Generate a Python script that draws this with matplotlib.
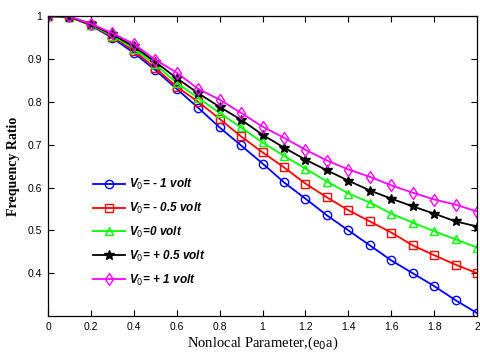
import matplotlib
matplotlib.use("Agg")
import matplotlib.pyplot as plt

# --- data ---
e0a = [0.0, 0.1, 0.2, 0.3, 0.4, 0.5, 0.6, 0.7, 0.8, 0.9, 1.0,
       1.1, 1.2, 1.3, 1.4, 1.5, 1.6, 1.7, 1.8, 1.9, 2.0]

v_m1 = [1.0, 0.998, 0.978, 0.949, 0.914, 0.874, 0.830, 0.786, 0.740, 0.698, 0.656,
        0.612, 0.574, 0.535, 0.500, 0.465, 0.430, 0.400, 0.370, 0.337, 0.307]
v_m05 = [1.0, 0.998, 0.979, 0.952, 0.919, 0.879, 0.835, 0.800, 0.760, 0.719, 0.682,
         0.647, 0.609, 0.577, 0.547, 0.521, 0.495, 0.465, 0.442, 0.420, 0.400]
v_0 = [1.0, 0.998, 0.980, 0.954, 0.924, 0.887, 0.844, 0.809, 0.774, 0.740, 0.705,
       0.674, 0.644, 0.614, 0.586, 0.565, 0.539, 0.518, 0.498, 0.479, 0.460]
v_p05 = [1.0, 0.998, 0.981, 0.957, 0.929, 0.893, 0.855, 0.820, 0.788, 0.758, 0.723,
         0.693, 0.665, 0.640, 0.616, 0.593, 0.574, 0.556, 0.539, 0.521, 0.509]
v_p1 = [1.0, 0.999, 0.982, 0.960, 0.935, 0.898, 0.868, 0.830, 0.805, 0.774, 0.742,
        0.716, 0.688, 0.663, 0.642, 0.625, 0.605, 0.588, 0.572, 0.560, 0.544]

series = [v_m1, v_m05, v_0, v_p05, v_p1]
labels = [r"$\mathit{V_0}$= - 1 volt", r"$\mathit{V_0}$= - 0.5 volt",
          r"$\mathit{V_0}$=0 volt", r"$\mathit{V_0}$= + 0.5 volt",
          r"$\mathit{V_0}$= + 1 volt"]
colors = ["#0000ff", "#ff0000", "#00ff00", "#000000", "#ff00ff"]
markers = ["o", "s", "^", "*", "d"]

plt.rcParams["mathtext.fontset"] = "custom"
plt.rcParams["mathtext.it"] = "Liberation Sans:italic:bold"

fig = plt.figure(figsize=(4.8, 3.56), dpi=100)
ax = fig.add_axes([0.1, 0.112, 0.894, 0.843])

for ys, lab, c, m in zip(series, labels, colors, markers):
    filled = (m == "*")
    ax.plot(e0a, ys, color=c, linewidth=1.3, marker=m,
            markersize=7.5 if m == "*" else 6,
            markerfacecolor=c if filled else "none",
            markeredgecolor=c, markeredgewidth=1.0, label=lab)

ax.set_xlim(0, 2)
ax.set_ylim(0.3, 1.0)
ax.set_xticks([0, 0.2, 0.4, 0.6, 0.8, 1, 1.2, 1.4, 1.6, 1.8, 2])
ax.set_xticklabels(["0", "0.2", "0.4", "0.6", "0.8", "1", "1.2", "1.4", "1.6", "1.8", "2"])
ax.set_yticks([0.4, 0.5, 0.6, 0.7, 0.8, 0.9, 1.0])
ax.set_yticklabels(["0.4", "0.5", "0.6", "0.7", "0.8", "0.9", "1"])

ax.tick_params(direction="in", top=True, right=True, length=4, width=0.8,
               labelsize=7.5, pad=4)
for lbl in ax.get_xticklabels() + ax.get_yticklabels():
    lbl.set_family("Liberation Sans")
for sp in ax.spines.values():
    sp.set_linewidth(0.9)

ax.set_xlabel(r"Nonlocal Parameter,(e$_0$a)", family="Liberation Serif",
              fontsize=10.5, labelpad=2)
ax.set_ylabel("Frequency Ratio", family="Liberation Serif", fontsize=10,
              fontweight="bold", labelpad=6)

leg = ax.legend(loc="upper left", bbox_to_anchor=(0.08, 0.5), frameon=False,
                handlelength=2.7, labelspacing=0.75, handletextpad=0.35,
                prop={"family": "Liberation Sans", "style": "italic",
                      "weight": "bold", "size": 8.5})

fig.savefig("out.png", dpi=100)
